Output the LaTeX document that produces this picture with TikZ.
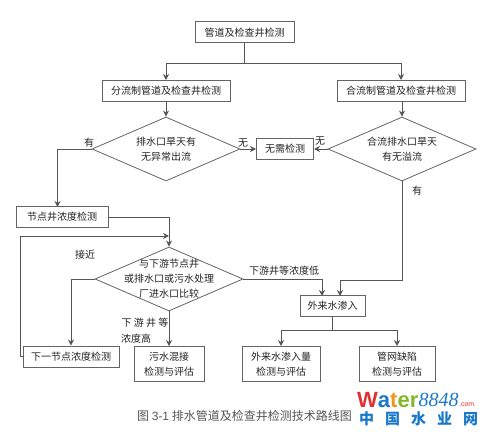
\documentclass[tikz,border=0pt]{standalone}
\usepackage{fontspec}
\setmainfont{Noto Sans CJK SC}
\newfontfamily\latinfont{Liberation Sans}
\newfontfamily\italfont{Liberation Serif}
\usetikzlibrary{shapes.geometric, arrows.meta, positioning, calc}
\definecolor{linegrey}{RGB}{85,85,85}
\definecolor{boxgrey}{RGB}{100,100,100}
\definecolor{textgrey}{RGB}{35,35,35}
\definecolor{capgrey}{RGB}{85,85,85}
\definecolor{logored}{RGB}{225,50,50}
\definecolor{logoorange}{RGB}{240,150,30}
\definecolor{logogreen}{RGB}{130,185,40}
\definecolor{logoblue}{RGB}{25,120,200}

\begin{document}
\begin{tikzpicture}[
  x=1pt, y=-1pt,
  font=\fontsize{10}{15}\selectfont,
  text=textgrey,
  stepbox/.style={rectangle, draw=boxgrey, fill=white, line width=1pt,
              minimum height=21pt, align=center, inner sep=0pt},
  tallbox/.style={stepbox, minimum height=35pt},
  decide/.style={diamond, draw=boxgrey, line width=0.8pt, inner sep=0pt,
              minimum width=148pt, minimum height=64pt, aspect=2.3},
  decidetext/.style={align=center, inner sep=0pt},
  arr/.style={-{Stealth[length=6pt,width=6pt]}, line width=1pt, linegrey},
  plain/.style={line width=1pt, linegrey},
  lbl/.style={inner sep=0pt, align=left}
]
\useasboundingbox (0,0) rectangle (486,436);

% ── Top of the chart ──
\node[stepbox, minimum width=99pt]  (root)  at (244.5, 32.5) {管道及检查井检测};
\node[stepbox, minimum width=128pt] (split) at (166, 91) {分流制管道及检查井检测};
\node[stepbox, minimum width=128pt] (comb)  at (401, 91) {合流制管道及检查井检测};

% ── First decisions and the box between them ──
\node[decide] (dryflow) at (166, 149) {};
\node[decidetext] (dryflowtxt) at (166, 149) {排水口旱天有\\无异常出流};
\node[decide] (overflow) at (402, 149) {};
\node[decidetext] (overflowtxt) at (402, 149) {合流排水口旱天\\有无溢流};
\node[stepbox, minimum width=57pt] (none) at (285, 149) {无需检测};

% ── Left branch ──
\node[stepbox, minimum width=92pt] (node1) at (62, 217) {节点井浓度检测};
\node[decide] (compare) at (169, 279) {};
\node[decidetext] (comparetxt) at (169, 279)
  {与下游节点井\\或排水口或污水处理\\厂进水口比较};
\node[stepbox, minimum width=96pt] (node2) at (71, 356.5) {下一节点浓度检测};
\node[tallbox, minimum width=70pt] (mixed) at (169, 364) {污水混接\\检测与评估};

% ── Right branch ──
\node[stepbox, minimum width=65pt] (infil) at (332.5, 306) {外来水渗入};
\node[tallbox, minimum width=78pt] (amount) at (281, 364) {外来水渗入量\\检测与评估};
\node[tallbox, minimum width=76pt] (defect) at (397, 364) {管网缺陷\\检测与评估};

% ── Arrows: top ──
\coordinate (rootfork) at (244.5, 63);
\draw[plain] (root.south) -- (rootfork);
\draw[arr] (rootfork) -| (split.north);
\draw[arr] (rootfork) -| (comb.north);
\draw[arr] (split) -- (dryflow.north);
\draw[arr] (comb.south -| overflow.north) -- (overflow.north);

% ── Arrows: decisions ──
\draw[arr] (dryflow.east) -- (none.west);
\draw[arr] (overflow.west) -- (none.east);
\coordinate (node1top) at (57.5, 207);
\draw[arr] (dryflow.west) -| (node1top);
\draw[arr] (node1.east) -| (compare.north);
\coordinate (backin) at (169, 236);
\coordinate (backx) at (20, 236);
\draw[arr] (node2.west) -| (backx) -- (backin);
\draw[arr] (compare.west) -| (node2.north);
\draw[arr] (compare.south) -- (mixed.north);

% ── Arrows: into and out of the infiltration box ──
\coordinate (infilL) at (322, 296);
\coordinate (infilR) at (340, 296);
\draw[arr] (compare.east) -| (infilL);
\draw[arr] (overflow.south) |- (402, 280) -| (infilR);
\coordinate (infilfork) at (332.5, 330);
\draw[plain] (infil.south) -- (infilfork);
\draw[arr] (infilfork) -| (amount.north);
\draw[arr] (infilfork) -| (defect.north);

% ── Labels ──
\node[lbl] (yes1) at (89, 143) {有};
\node[lbl] (no1)  at (243, 143) {无};
\node[lbl] (no2)  at (320, 141) {无};
\node[lbl] (yes2) at (417, 191) {有};
\node[lbl] (near) at (85, 255) {接近};
\node[lbl] (high1) at (145, 323) {下 游 井 等};
\node[lbl] (high2) at (136, 339) {浓度高};
\node[lbl] (low) at (284, 271) {下游井等浓度低};

% ── Caption and logo ──
\node[lbl, text=capgrey, font=\fontsize{12}{14}\selectfont] (caption) at (244.5, 416)
  {图 {\latinfont 3-1} 排水管道及检查井检测技术路线图};
\node[lbl, anchor=west, font=\fontsize{22}{22}\selectfont\latinfont\bfseries] (logoa) at (357, 400)
  {\textcolor{logored}{W}\textcolor{logoblue}{a}\textcolor{logoorange}{t}\textcolor{logogreen}{e}\textcolor{logogreen}{r}};
\node[lbl, anchor=west, right=0pt of logoa, text=logoblue, font=\fontsize{20}{20}\selectfont\italfont\itshape] (logob) {8848};
\node[lbl, anchor=west, right=0pt of logob, yshift=-5pt, text=logored, font=\fontsize{7}{7}\selectfont\latinfont] (logoc) {.com};
\node[lbl, anchor=west, text=logoblue, font=\fontsize{15}{15}\selectfont\bfseries] (logocn) at (359, 419)
  {中\hspace{11pt}国\hspace{11pt}水\hspace{11pt}业\hspace{11pt}网};

\end{tikzpicture}
\end{document}
